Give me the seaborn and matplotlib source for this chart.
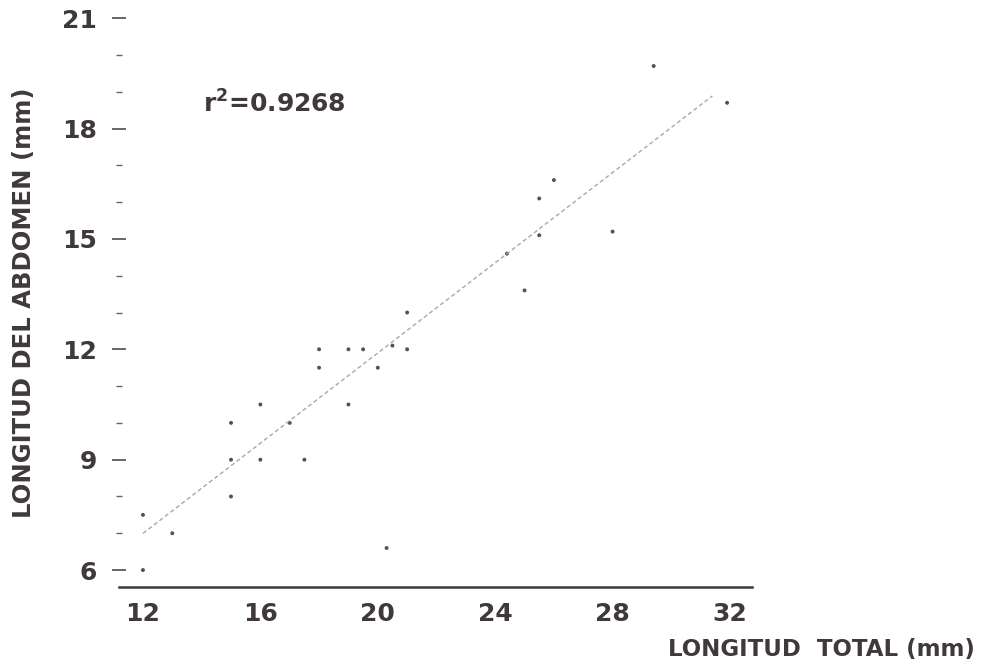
import numpy as np
import pandas as pd
import matplotlib.pyplot as plt
from matplotlib.ticker import MultipleLocator
import seaborn as sns

# valores
longitud_total = [12.0, 12.0, 13.0, 15.0, 15.0, 15.0, 16.0, 16.0, 17.0, 17.5,
                  18.0, 18.0, 19.0, 19.0, 19.5, 20.0, 20.3, 20.5, 21.0, 21.0,
                  24.4, 25.0, 25.5, 25.5, 26.0, 28.0, 29.4, 31.9]
longitud_abdomen = [6.0, 7.5, 7.0, 8.0, 9.0, 10.0, 9.0, 10.5, 10.0, 9.0,
                    11.5, 12.0, 10.5, 12.0, 12.0, 11.5, 6.6, 12.1, 12.0, 13.0,
                    14.6, 13.6, 15.1, 16.1, 16.6, 15.2, 19.7, 18.7]

# recta de regresion
fit_x = [12.0, 31.4]
slope = 0.613
intercept = -0.36
r2_label = 'r$^{\\mathbf{2}}$=0.9268'

x_ticks = [12, 16, 20, 24, 28, 32]
y_ticks = [6, 9, 12, 15, 18, 21]

ink = '#3f383c'

sns.set_style('white')
plt.rcParams['font.family'] = ['DejaVu Sans']
plt.rcParams['font.weight'] = 'bold'
plt.rcParams['axes.labelweight'] = 'bold'

df = pd.DataFrame({'total': longitud_total, 'abdomen': longitud_abdomen})
fit = pd.DataFrame({'total': fit_x})
fit['abdomen'] = intercept + slope * fit['total']

fig = plt.figure(figsize=(9.89, 6.68), dpi=100)
ax = fig.add_axes([0.1208, 0.1213, 0.6396, 0.868])

sns.lineplot(data=fit, x='total', y='abdomen', ax=ax, color='#a8a8a8',
             linewidth=1.0, linestyle=(0, (3, 2)))
sns.scatterplot(data=df, x='total', y='abdomen', ax=ax, s=8,
                color='#555055', edgecolor='none')

ax.set_xlim(11.2, 32.75)
ax.set_ylim(5.54, 21.3)
ax.set_xticks(x_ticks)
ax.set_yticks(y_ticks)
ax.yaxis.set_minor_locator(MultipleLocator(1))

for side in ['left', 'top', 'right']:
    ax.spines[side].set_visible(False)
ax.spines['bottom'].set_color(ink)
ax.spines['bottom'].set_linewidth(1.8)

ax.tick_params(axis='x', length=0, pad=11, labelsize=18, labelcolor=ink)
ax.tick_params(axis='y', which='both', left=True, direction='inout', color='#6a6266')
ax.tick_params(axis='y', which='major', length=10, width=1.4, pad=11,
               labelsize=18, labelcolor=ink)
ax.tick_params(axis='y', which='minor', length=5, width=1.0)

ax.set_xlabel('LONGITUD  TOTAL (mm)', fontsize=16.5, fontweight='bold', color=ink,
              ha='right', va='center')
ax.xaxis.set_label_coords(1.3526, -0.1086)
ax.set_ylabel('LONGITUD DEL ABDOMEN (mm)', fontsize=17.5, fontweight='bold', color=ink,
              va='center')
ax.yaxis.set_label_coords(-0.151, 0.49)

ax.text(14.04, 18.66, r2_label, fontsize=18, color=ink, ha='left', va='center')

fig.savefig('out.png', dpi=100)
